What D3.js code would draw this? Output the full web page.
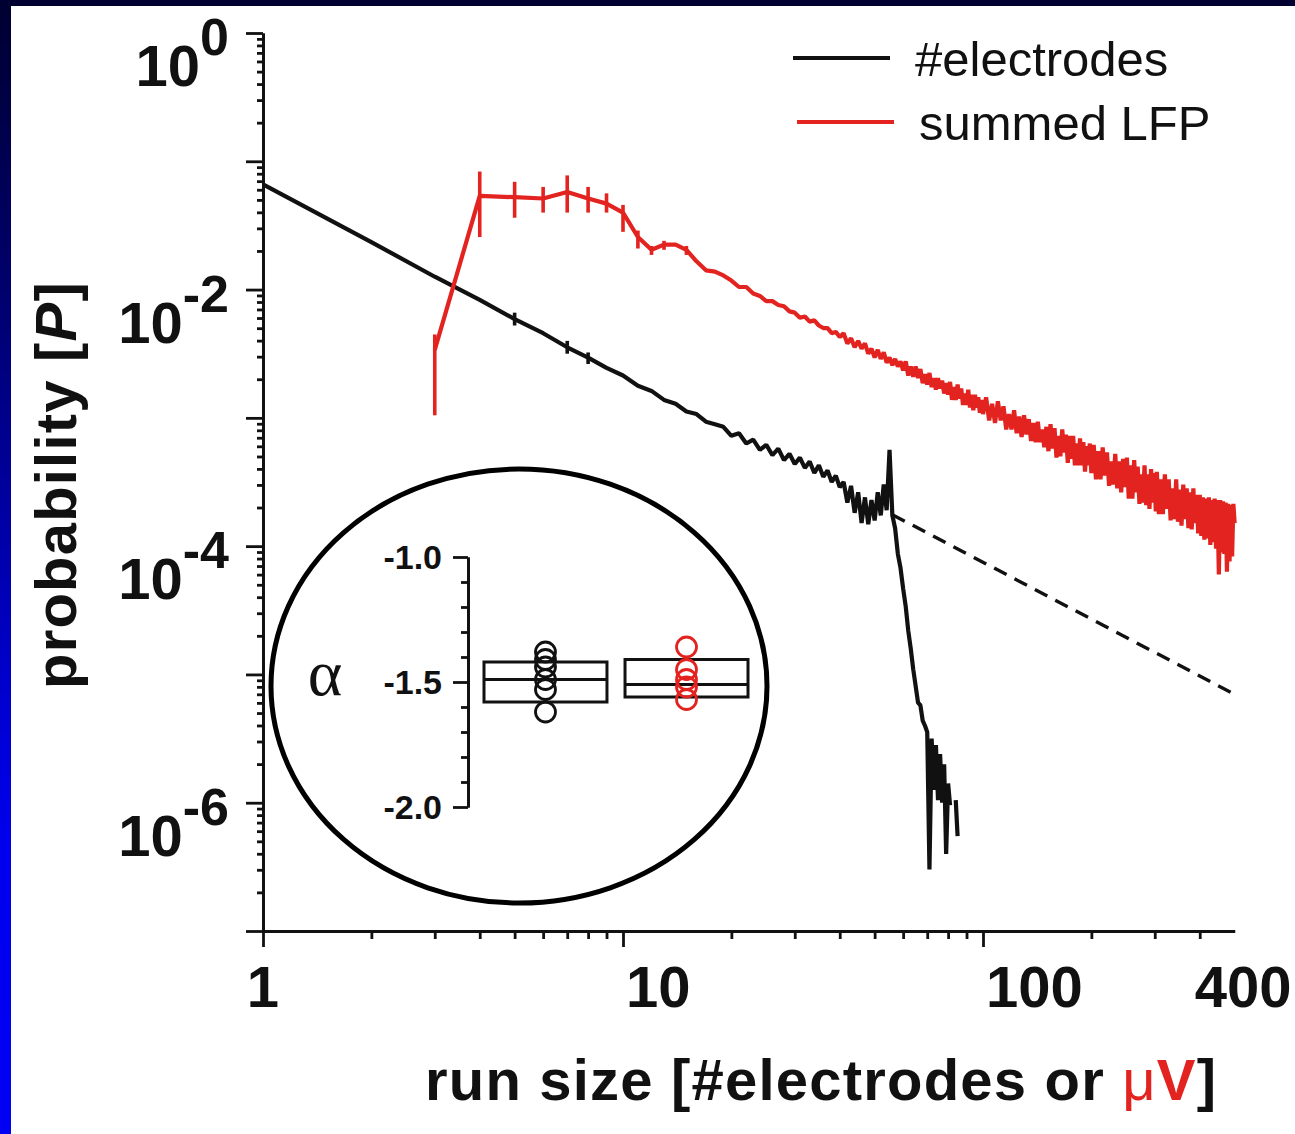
<!DOCTYPE html>
<html>
<head>
  <meta charset="utf-8">
  <title>Run size distribution</title>
  <script src="https://d3js.org/d3.v7.min.js"></script>
  <style>
    body { margin: 0; background: #fff; }
    svg { display: block; }
    .axis path, .axis line { stroke: #111; stroke-width: 2.8; fill: none; }
    .tick-label { font: bold 58px "Liberation Sans", Arial, sans-serif; fill: #111; }
    .title { font: bold 58px "Liberation Sans", Arial, sans-serif; fill: #111; letter-spacing: 1.2px; }
    .legend text { font: 49px "Liberation Sans", Arial, sans-serif; fill: #111; }
    .inset-label { font: bold 34px "Liberation Sans", Arial, sans-serif; fill: #111; }
    .series { fill: none; stroke-linejoin: bevel; }
  </style>
</head>
<body>
<script>

  var W = 1295, H = 1134;

  // #electrodes : run size (integer) -> log10 probability
  var electrodeSizes = d3.range(1, 86);
  var electrodeLogP = [
    -1.18, -1.63, -1.90, -2.08, -2.23, -2.34, -2.45, -2.53, -2.61, -2.67,
    -2.75, -2.79, -2.86, -2.89, -2.95, -2.97, -3.03, -3.05, -3.07, -3.14,
    -3.12, -3.20, -3.17, -3.25, -3.21, -3.29, -3.24, -3.33, -3.28, -3.36,
    -3.31, -3.39, -3.34, -3.43, -3.37, -3.46, -3.41, -3.50, -3.45, -3.54,
    -3.50, -3.66, -3.53, -3.74, -3.58, -3.82, -3.62, -3.83, -3.64, -3.80,
    -3.58, -3.76, -3.52, -3.72, -3.25, -3.76, -3.86, -4.06, -4.17, -4.33,
    -4.47, -4.66, -4.80, -4.96, -5.09, -5.22, -5.24, -5.36, -5.40, -5.45,
    -6.52, -5.50, -5.90, -5.55, -5.98, -5.62, -6.00, -5.70, -6.40, -5.85,
    -6.02, null, null, -5.98, -6.26
  ];
  var electrodeErrSizes = [5, 7, 8];
  var electrodeErrHi = [-2.18, -2.40, -2.49];
  var electrodeErrLo = [-2.28, -2.50, -2.58];

  // summed LFP : run size in uV -> log10 probability
  var lfpSizes = d3.range(3, 101).concat(d3.range(102, 201, 2), d3.range(203, 303, 3), d3.range(304, 501, 4));
  var lfpLogP = [
    // 3 .. 60
    -2.47, -1.27, -1.28, -1.29, -1.24, -1.29, -1.33, -1.40, -1.59, -1.69,
    -1.65, -1.65, -1.69, -1.78, -1.85, -1.86, -1.89,
    -1.93, -1.98, -1.98, -2.03, -2.05, -2.09, -2.09, -2.12, -2.13, -2.17,
    -2.18, -2.22, -2.21, -2.25, -2.24, -2.28, -2.30, -2.30, -2.34, -2.33, -2.37,
    -2.34, -2.42, -2.38, -2.45, -2.40, -2.46, -2.42, -2.50, -2.46, -2.53,
    -2.47, -2.54, -2.49, -2.57, -2.53, -2.59, -2.54, -2.60, -2.56, -2.63,
    // 61 .. 100
    -2.56, -2.67, -2.60, -2.68, -2.60, -2.69, -2.62, -2.73, -2.66, -2.74,
    -2.65, -2.76, -2.69, -2.78, -2.69, -2.77, -2.71, -2.81, -2.73, -2.82,
    -2.72, -2.86, -2.76, -2.86, -2.74, -2.85, -2.77, -2.90, -2.81, -2.90,
    -2.78, -2.92, -2.82, -2.94, -2.82, -2.92, -2.84, -2.96, -2.86, -2.97,
    // 102 .. 200 step 2
    -2.84, -3.02, -2.89, -3.04, -2.87, -3.02, -2.91, -3.09, -2.97, -3.09,
    -2.94, -3.12, -2.99, -3.15, -2.98, -3.13, -3.01, -3.18, -3.04, -3.19,
    -3.03, -3.19, -3.09, -3.23, -3.07,
    -3.26, -3.05, -3.24, -3.08, -3.31, -3.14, -3.30, -3.09, -3.27, -3.13,
    -3.35, -3.14, -3.32, -3.14, -3.37, -3.20, -3.37, -3.16, -3.37, -3.19,
    -3.42, -3.22, -3.37, -3.20, -3.43,
    // 203 .. 302 step 3
    -3.21, -3.48, -3.26, -3.48, -3.23, -3.45, -3.27, -3.53, -3.34, -3.52,
    -3.28, -3.55, -3.34, -3.58, -3.32, -3.54,
    -3.31, -3.63, -3.37, -3.63, -3.33, -3.58, -3.38, -3.67, -3.44, -3.66,
    -3.37, -3.68, -3.44, -3.71, -3.40, -3.66, -3.43, -3.73,
    // 304 .. 500 step 4
    -3.42, -3.75, -3.48, -3.75, -3.44, -3.71, -3.48, -3.80, -3.55, -3.79,
    -3.48, -3.81, -3.56, -3.84, -3.52, -3.79, -3.55, -3.86, -3.58, -3.87,
    -3.55, -3.82, -3.60, -3.90, -3.60,
    -3.92, -3.62, -3.95, -3.63, -3.94, -3.62, -3.99, -3.64, -3.97, -3.63,
    -4.02, -3.64, -4.22, -3.64, -4.05, -3.65, -4.06, -3.66, -4.20, -3.67,
    -4.12, -3.68, -4.08, -3.67, -3.82
  ];
  var lfpErrSizes = [3, 4, 5, 6, 7, 8, 9, 10, 11, 12, 13, 15];
  var lfpErrHi = [-2.35, -1.08, -1.16, -1.20, -1.11, -1.20, -1.25, -1.34, -1.54, -1.66, -1.62, -1.66];
  var lfpErrLo = [-2.98, -1.59, -1.44, -1.40, -1.40, -1.40, -1.40, -1.55, -1.68, -1.73, -1.69, -1.73];

  // power-law fit beyond the cut-off
  var fitSizes = [56, 500];
  var fitP = [1.76e-4, 7.0e-6];

  // inset: exponent alpha per recording
  var alphaGroups = ["#electrodes", "summed LFP"];
  var alphaColors = ["#111", "#e3231f"];
  var alphaQ1 = [-1.58, -1.56];
  var alphaMedian = [-1.49, -1.51];
  var alphaQ3 = [-1.42, -1.41];
  var alphaElectrodes = [-1.38, -1.41, -1.44, -1.49, -1.53, -1.62];
  var alphaLFP = [-1.36, -1.45, -1.49, -1.52, -1.57];

  var xTickLabels = [1, 10, 100, 400];
  var yLabelDecades = [0, -2, -4, -6];

  var black = "#111", red = "#e3231f";

  var svg = d3.select("body").append("svg")
      .attr("width", W)
      .attr("height", H);

  // slide background: navy to blue, figure panel on top
  var grad = svg.append("defs").append("linearGradient")
      .attr("id", "slideBg")
      .attr("x1", 0).attr("y1", 0).attr("x2", 0).attr("y2", 1);
  [[0, "#000030"], [0.3, "#000078"], [0.6, "#0000cc"], [0.75, "#0000ee"], [1, "#0000f4"]].forEach(function (s) {
    grad.append("stop").attr("offset", s[0]).attr("stop-color", s[1]);
  });
  svg.append("rect").attr("width", W).attr("height", H).attr("fill", "url(#slideBg)");
  svg.append("rect").attr("x", 11).attr("y", 6).attr("width", W - 11).attr("height", H - 6).attr("fill", "#fff");

  var decade = 360;
  var x = d3.scaleLog().domain([1, 500]).range([263, 263 + decade * Math.log10(500)]);
  var y = d3.scaleLog().domain([1e-7, 1]).range([931, 33]);

  var xMinor = [], xMajor = [1, 10, 100];
  [1, 10].forEach(function (b) { for (var k = 2; k < 10; k++) xMinor.push(k * b); });
  xMinor.push(200, 300, 400);

  var yMinor = [], yMajor = [];
  for (var e = -7; e <= 0; e++) {
    yMajor.push(Math.pow(10, e));
    if (e < 0) for (var k = 2; k < 10; k++) yMinor.push(k * Math.pow(10, e));
  }

  var x0 = x(1), yBase = y(1e-7);

  svg.append("g").attr("class", "axis").attr("transform", "translate(0," + yBase + ")")
      .call(d3.axisBottom(x).tickValues(xMinor).tickSize(8).tickSizeOuter(0).tickFormat(""));
  svg.append("g").attr("class", "axis").attr("transform", "translate(0," + yBase + ")")
      .call(d3.axisBottom(x).tickValues(xMajor).tickSize(16).tickSizeOuter(0).tickFormat(""));
  svg.append("g").attr("class", "axis").attr("transform", "translate(" + x0 + ",0)")
      .call(d3.axisLeft(y).tickValues(yMinor).tickSize(6).tickSizeOuter(0).tickFormat(""));
  svg.append("g").attr("class", "axis").attr("transform", "translate(" + x0 + ",0)")
      .call(d3.axisLeft(y).tickValues(yMajor).tickSize(17).tickSizeOuter(0).tickFormat(""));

  // tick labels
  xTickLabels.forEach(function (v) {
    svg.append("text")
        .attr("class", "tick-label")
        .attr("x", x(v) + (v === 1 ? 0 : v === 400 ? -5 : 3))
        .attr("y", 1007)
        .attr("text-anchor", v === 1 ? "middle" : "start")
        .text(v);
  });

  yLabelDecades.forEach(function (d) {
    var t = svg.append("text")
        .attr("class", "tick-label")
        .attr("x", 229)
        .attr("y", y(Math.pow(10, d)) + 53)
        .attr("text-anchor", "end");
    t.append("tspan").text("10");
    t.append("tspan").attr("dy", -31).attr("font-size", 52).text(d === 0 ? "0" : "-" + (-d));
  });

  // axis titles
  var xt = svg.append("text").attr("class", "title").attr("x", 425).attr("y", 1100);
  xt.append("tspan").text("run size [#electrodes or ");
  xt.append("tspan").attr("fill", red).attr("font-weight", "normal").text("\u03bc");
  xt.append("tspan").attr("fill", red).text("V");
  xt.append("tspan").text("]");

  var yt = svg.append("text").attr("class", "title")
      .attr("transform", "translate(76,485) rotate(-90)")
      .attr("text-anchor", "middle");
  yt.append("tspan").text("probability [");
  yt.append("tspan").attr("font-style", "italic").text("P");
  yt.append("tspan").text("]");

  // series
  var line = d3.line()
      .defined(function (d) { return d[1] != null; })
      .x(function (d) { return x(d[0]); })
      .y(function (d) { return y(Math.pow(10, d[1])); });

  svg.append("path")
      .datum(d3.zip(fitSizes, fitP))
      .attr("fill", "none")
      .attr("stroke", black)
      .attr("stroke-width", 3.4)
      .attr("stroke-dasharray", "14,9")
      .attr("d", d3.line().x(function (d) { return x(d[0]); }).y(function (d) { return y(d[1]); }));

  function errorBars(sizes, lo, hi, color) {
    svg.append("g").selectAll("line")
        .data(d3.range(sizes.length))
        .join("line")
        .attr("x1", function (i) { return x(sizes[i]); })
        .attr("x2", function (i) { return x(sizes[i]); })
        .attr("y1", function (i) { return y(Math.pow(10, lo[i])); })
        .attr("y2", function (i) { return y(Math.pow(10, hi[i])); })
        .attr("stroke", color)
        .attr("stroke-width", 3.6);
  }

  svg.append("path")
      .datum(d3.zip(electrodeSizes, electrodeLogP))
      .attr("class", "series")
      .attr("stroke", black)
      .attr("stroke-width", 4.2)
      .attr("d", line);
  errorBars(electrodeErrSizes, electrodeErrLo, electrodeErrHi, black);

  svg.append("path")
      .datum(d3.zip(lfpSizes, lfpLogP))
      .attr("class", "series")
      .attr("stroke", red)
      .attr("stroke-width", 4.2)
      .attr("d", line);
  errorBars(lfpErrSizes, lfpErrLo, lfpErrHi, red);

  // legend
  var legend = svg.append("g").attr("class", "legend");
  [["#electrodes", black, 793, 58], ["summed LFP", red, 797, 122]].forEach(function (l) {
    legend.append("line")
        .attr("x1", l[2]).attr("x2", l[2] + 97)
        .attr("y1", l[3]).attr("y2", l[3])
        .attr("stroke", l[1]).attr("stroke-width", 4.2);
    legend.append("text")
        .attr("x", l[2] + 122)
        .attr("y", l[3] + 18)
        .text(l[0]);
  });

  // inset with exponents
  var inset = svg.append("g");
  inset.append("ellipse")
      .attr("cx", 519).attr("cy", 686)
      .attr("rx", 248).attr("ry", 217)
      .attr("fill", "#fff")
      .attr("stroke", "#000")
      .attr("stroke-width", 5);

  var ay = d3.scaleLinear().domain([-2, -1]).range([807, 557]);
  var ax = d3.scaleBand().domain(alphaGroups).range([484, 748]).paddingInner(0.128);
  var axX = 468;

  inset.append("g").attr("class", "axis").attr("transform", "translate(" + axX + ",0)")
      .call(d3.axisLeft(ay).tickValues([-1.9, -1.8, -1.7, -1.6, -1.4, -1.3, -1.2, -1.1]).tickSize(7).tickSizeOuter(0).tickFormat(""));
  inset.append("g").attr("class", "axis").attr("transform", "translate(" + axX + ",0)")
      .call(d3.axisLeft(ay).tickValues([-2, -1.5, -1]).tickSize(15).tickSizeOuter(0).tickFormat(""));
  inset.selectAll(".axis path, .axis line").attr("stroke-width", 2.6);

  [-2, -1.5, -1].forEach(function (v) {
    inset.append("text")
        .attr("class", "inset-label")
        .attr("x", axX - 26)
        .attr("y", ay(v))
        .attr("dy", "0.36em")
        .attr("text-anchor", "end")
        .text(v.toFixed(1));
  });
  inset.append("text")
      .attr("x", 325).attr("y", 695)
      .attr("text-anchor", "middle")
      .attr("font-family", "'Liberation Serif', 'Times New Roman', serif")
      .attr("font-size", 66)
      .attr("fill", "#111")
      .text("\u03b1");

  alphaGroups.forEach(function (g, i) {
    var bx = ax(g), bw = ax.bandwidth();
    inset.append("rect")
        .attr("x", bx).attr("y", ay(alphaQ3[i]))
        .attr("width", bw).attr("height", ay(alphaQ1[i]) - ay(alphaQ3[i]))
        .attr("fill", "none").attr("stroke", black).attr("stroke-width", 3);
    inset.append("line")
        .attr("x1", bx).attr("x2", bx + bw)
        .attr("y1", ay(alphaMedian[i])).attr("y2", ay(alphaMedian[i]))
        .attr("stroke", black).attr("stroke-width", 3);
    inset.append("g").selectAll("circle")
        .data(i === 0 ? alphaElectrodes : alphaLFP)
        .join("circle")
        .attr("cx", bx + bw / 2)
        .attr("cy", function (d) { return ay(d); })
        .attr("r", 10)
        .attr("fill", "none")
        .attr("stroke", alphaColors[i])
        .attr("stroke-width", 2.8);
  });

</script>
</body>
</html>
